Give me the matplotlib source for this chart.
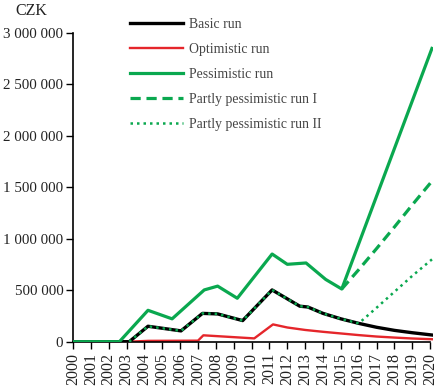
import matplotlib
matplotlib.use("Agg")
import matplotlib.pyplot as plt
from matplotlib.ticker import FuncFormatter

# values (CZK)
basic_years = [2000, 2003.15, 2004.2, 2006.05, 2007.25, 2008.1, 2009.5, 2011.15,
               2012.7, 2013.15, 2014, 2015, 2016, 2017, 2018, 2019, 2020.1]
basic_vals = [0, 0, 150000, 105000, 275000, 270000, 205000, 503000,
              345000, 337000, 275000, 222000, 178000, 140000, 110000, 87000, 65000]

opt_years = [2000, 2003.1, 2004.2, 2007.0, 2007.3, 2010.15, 2011.2, 2012, 2013,
             2014, 2015, 2016, 2017, 2018, 2019, 2020.1]
opt_vals = [0, 0, 8000, 10000, 62000, 32000, 168000, 138000, 114000,
            96000, 80000, 64000, 50000, 40000, 31000, 24000]

pess_years = [2000, 2002.6, 2004.2, 2005.55, 2007.35, 2008.1, 2009.2, 2011.15,
              2012.0, 2013.05, 2014.15, 2015.05, 2020.1]
pess_vals = [0, 0, 305000, 222000, 503000, 540000, 422000, 852000,
             752000, 765000, 605000, 512000, 2850000]

# partly pessimistic runs branch off from the pessimistic / basic runs
part1_years = [2015.05, 2016, 2017, 2018, 2019, 2020.1]
part1_vals = [512000, 700000, 905000, 1115000, 1330000, 1560000]

part2_years = [2017, 2018, 2019, 2020.1]
part2_vals = [330000, 485000, 640000, 800000]

year_ticks = list(range(2000, 2021))
y_ticks = [0, 500000, 1000000, 1500000, 2000000, 2500000, 3000000]

GREEN = "#0aa84f"
RED = "#e5262b"

plt.rcParams["font.family"] = ["Liberation Serif", "DejaVu Serif"]

fig = plt.figure(figsize=(4.41, 3.86), dpi=100)
ax = fig.add_axes([0.1655, 0.1148, 0.816, 0.7997])

# run II follows the basic run up to 2016
cut = basic_years.index(2016) + 1
p2_x = basic_years[:cut] + part2_years
p2_y = basic_vals[:cut] + part2_vals
p2_start = basic_years.index(2003.15)
p2_x = p2_x[p2_start:]
p2_y = p2_y[p2_start:]

ax.plot(basic_years, basic_vals, color="black", lw=2.4, label="Basic run", zorder=3)
ax.plot(opt_years, opt_vals, color=RED, lw=1.7, label="Optimistic run", zorder=2)
ax.plot(pess_years, pess_vals, color=GREEN, lw=2.3, label="Pessimistic run", zorder=4)
ax.plot(part1_years, part1_vals, color=GREEN, lw=2.3, ls=(0, (3.2, 1.8)),
        label="Partly pessimistic run I", zorder=4)
ax.plot(p2_x, p2_y, color=GREEN, lw=1.8, ls=(0, (1, 1.6)),
        label="Partly pessimistic run II", zorder=5)

ax.set_xlim(2000, 2020.15)
ax.set_ylim(0, 3000000)
ax.set_xticks(year_ticks)
ax.set_xticklabels([str(y) for y in year_ticks], rotation=90, fontsize=11.5, color="#222222")
ax.set_yticks(y_ticks)
ax.yaxis.set_major_formatter(FuncFormatter(lambda v, p: f"{int(v):,}".replace(",", " ")))
ax.tick_params(axis="y", labelsize=10.8, labelcolor="#222222", direction="out",
               length=5, width=1, pad=2)
ax.tick_params(axis="x", direction="out", length=5, width=1, pad=3)

for side in ["top", "right"]:
    ax.spines[side].set_visible(False)
ax.spines["left"].set_linewidth(1.2)
ax.spines["bottom"].set_linewidth(1.2)
ax.spines["bottom"].set_bounds(2000, 2020)

fig.text(0.035, 0.972, "CZK", fontsize=11.5, color="#222222", va="center", ha="left")

leg = fig.legend(loc="upper left", bbox_to_anchor=(0.294, 0.954), frameon=False,
                 fontsize=9.9, handlelength=3.9, handletextpad=0.4,
                 labelspacing=0.88, borderpad=0, borderaxespad=0)
for t in leg.get_texts():
    t.set_color("#444444")

fig.savefig("out.png", dpi=100)
